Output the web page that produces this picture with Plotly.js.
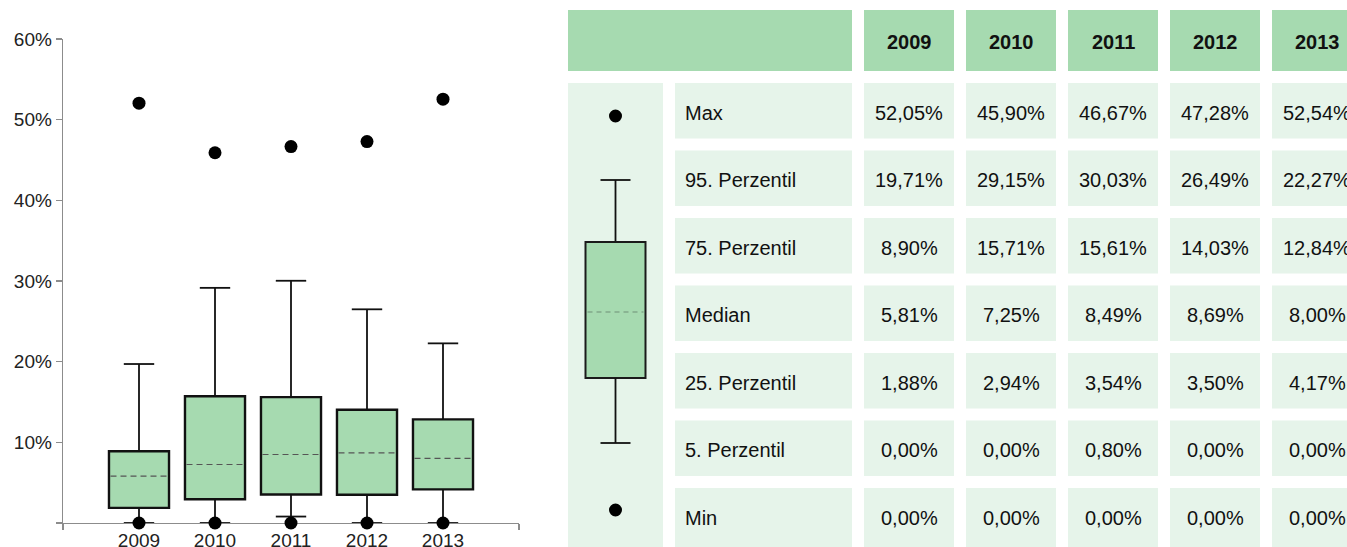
<!DOCTYPE html>
<html>
<head>
<meta charset="utf-8">
<script src="https://cdn.plot.ly/plotly-3.0.1.min.js"></script>
<style>html,body{margin:0;padding:0;background:#fff;}#chart{width:1347px;height:547px;}</style>
</head>
<body>
<div id="chart"></div>
<script>
// ---------------- DATA ----------------
const years = ['2009', '2010', '2011', '2012', '2013'];
const maxV = [52.05, 45.90, 46.67, 47.28, 52.54];
const p95 = [19.71, 29.15, 30.03, 26.49, 22.27];
const p75 = [8.90, 15.71, 15.61, 14.03, 12.84];
const medianV = [5.81, 7.25, 8.49, 8.69, 8.00];
const p25 = [1.88, 2.94, 3.54, 3.50, 4.17];
const p5 = [0.00, 0.00, 0.80, 0.00, 0.00];
const minV = [0.00, 0.00, 0.00, 0.00, 0.00];
const rowLabels = ['Max', '95. Perzentil', '75. Perzentil', 'Median', '25. Perzentil', '5. Perzentil', 'Min'];
const yTickVals = [0, 10, 20, 30, 40, 50, 60];

// ---------------- STYLE / LAYOUT CONSTANTS ----------------
const W = 1347, H = 547;
const FONT = 'Liberation Sans, Arial, Helvetica, sans-serif';
const GREEN = '#a6dab0';
const LIGHT = '#e6f4ea';
const INK = '#111111';
const AXIS = '#8c8c8c';
const px = x => x / W;
const py = y => 1 - y / H;

const idx = years.map((_, i) => i);
const boxW = 0.79, capHalf = 0.2;

// whisker segments
function segs(fn) {
  const xs = [], ys = [];
  idx.forEach(i => { const s = fn(i); xs.push(...s[0], null); ys.push(...s[1], null); });
  return [xs, ys];
}
const upStem = segs(i => [[i, i], [p75[i], p95[i]]]);
const upCap = segs(i => [[i - capHalf, i + capHalf], [p95[i], p95[i]]]);
const loStem = segs(i => [[i, i], [p25[i], p5[i]]]);
const loCap = segs(i => [[i - capHalf, i + capHalf], [p5[i], p5[i]]]);
const medSeg = segs(i => [[i - boxW / 2 + 0.02, i + boxW / 2 - 0.02], [medianV[i], medianV[i]]]);

const traces = [
  {
    type: 'bar', x: idx, base: p25, y: p75.map((v, i) => v - p25[i]), width: boxW,
    marker: {color: GREEN, line: {color: INK, width: 2.4}}, hoverinfo: 'skip', showlegend: false
  },
  {
    type: 'scatter', mode: 'lines', x: upStem[0].concat(upCap[0], loStem[0], loCap[0]),
    y: upStem[1].concat(upCap[1], loStem[1], loCap[1]),
    line: {color: INK, width: 1.8}, cliponaxis: false, connectgaps: false, hoverinfo: 'skip', showlegend: false
  },
  {
    type: 'scatter', mode: 'lines', x: medSeg[0], y: medSeg[1],
    line: {color: '#555555', width: 1.2, dash: '6px,4px'}, connectgaps: false, hoverinfo: 'skip', showlegend: false
  },
  {
    type: 'scatter', mode: 'markers', x: idx.concat(idx), y: maxV.concat(minV),
    marker: {color: '#000', size: 13}, cliponaxis: false, hoverinfo: 'skip', showlegend: false
  }
];

// ---------------- TABLE (shapes + annotations) ----------------
const shapes = [];
const annotations = [];
const colW = [95, 177, 90, 90, 90, 90, 90];
const gap = 12;
const tableLeft = 568;
const colLeft = [];
colW.reduce((acc, w, k) => { colLeft[k] = acc; return acc + w + gap; }, tableLeft);
const headTop = 10, headH = 61;
const bodyTop = 83, rowH = 55.5, rowPitch = 67.5;

function rect(x0, y0, x1, y1, color) {
  shapes.push({type: 'rect', xref: 'paper', yref: 'paper', x0: px(x0), x1: px(x1), y0: py(y1), y1: py(y0),
    fillcolor: color, line: {width: 0}, layer: 'below'});
}
// header: merged first two columns
rect(colLeft[0], headTop, colLeft[1] + colW[1], headTop + headH, GREEN);
years.forEach((yr, j) => {
  const c = j + 2;
  rect(colLeft[c], headTop, colLeft[c] + colW[c], headTop + headH, GREEN);
  annotations.push({xref: 'paper', yref: 'paper', x: px(colLeft[c] + colW[c] / 2), y: py(headTop + headH / 2 + 2),
    text: '<b>' + yr + '</b>', showarrow: false, xanchor: 'center', yanchor: 'middle',
    font: {family: FONT, size: 20, color: INK}});
});
// legend column (merged)
rect(colLeft[0], bodyTop, colLeft[0] + colW[0], H + 5, LIGHT);

const tableRows = [maxV, p95, p75, medianV, p25, p5, minV];
const fmt = v => v.toFixed(2).replace('.', ',') + '%';
tableRows.forEach((vals, r) => {
  const top = bodyTop + r * rowPitch;
  const bot = (r === tableRows.length - 1) ? H + 5 : top + rowH;
  const cy = top + rowH / 2 + 2;
  rect(colLeft[1], top, colLeft[1] + colW[1], bot, LIGHT);
  annotations.push({xref: 'paper', yref: 'paper', x: px(colLeft[1] + 8), y: py(cy),
    text: rowLabels[r], showarrow: false, xanchor: 'left', yanchor: 'middle',
    font: {family: FONT, size: 20, color: INK}});
  vals.forEach((v, j) => {
    const c = j + 2;
    rect(colLeft[c], top, colLeft[c] + colW[c], bot, LIGHT);
    annotations.push({xref: 'paper', yref: 'paper', x: px(colLeft[c] + colW[c] / 2), y: py(cy),
      text: fmt(v), showarrow: false, xanchor: 'center', yanchor: 'middle',
      font: {family: FONT, size: 20, color: INK}});
  });
});

// legend icon (schematic box plot)
const icx = colLeft[0] + colW[0] / 2;
function iline(x0, y0, x1, y1, w, color, dash) {
  shapes.push({type: 'line', xref: 'paper', yref: 'paper', x0: px(x0), x1: px(x1), y0: py(y0), y1: py(y1),
    line: {color: color || INK, width: w || 1.8, dash: dash || 'solid'}});
}
function idot(cx, cy, r) {
  shapes.push({type: 'circle', xref: 'paper', yref: 'paper', x0: px(cx - r), x1: px(cx + r), y0: py(cy + r), y1: py(cy - r),
    fillcolor: '#000', line: {width: 0}});
}
idot(icx, 116, 6.5);
iline(icx - 15, 180, icx + 15, 180);
iline(icx, 180, icx, 242);
shapes.push({type: 'rect', xref: 'paper', yref: 'paper', x0: px(icx - 30), x1: px(icx + 30), y0: py(378), y1: py(242),
  fillcolor: GREEN, line: {color: '#1a1a1a', width: 2}});
iline(icx - 28, 312, icx + 28, 312, 1, '#6f8f76', '5px,4px');
iline(icx, 378, icx, 443);
iline(icx - 15, 443, icx + 15, 443);
idot(icx, 510, 6.5);

// ---------------- LAYOUT ----------------
const layout = {
  width: W, height: H,
  margin: {l: 0, r: 0, t: 0, b: 0, pad: 0},
  paper_bgcolor: '#fff', plot_bgcolor: 'rgba(0,0,0,0)',
  showlegend: false,
  barmode: 'overlay',
  font: {family: FONT, color: '#222'},
  xaxis: {
    domain: [px(63), px(519)], range: [-1, 5],
    tickvals: idx, ticktext: years,
    ticks: '', ticklen: 0,
    minor: {tickvals: [-1, 5], ticks: 'outside', ticklen: 6, tickcolor: AXIS, tickwidth: 1.3, showgrid: false},
    showline: true, linecolor: AXIS, linewidth: 1.3, showgrid: false, zeroline: false,
    tickfont: {family: FONT, size: 19, color: '#222'}, layer: 'below traces', fixedrange: true
  },
  yaxis: {
    domain: [py(523), py(39)], range: [0, 60],
    tickvals: yTickVals, ticktext: yTickVals.map(v => v === 0 ? '' : v + '%'),
    ticks: 'outside', ticklen: 6, tickcolor: AXIS, tickwidth: 1.3,
    showline: true, linecolor: AXIS, linewidth: 1.3, showgrid: false, zeroline: false,
    tickfont: {family: FONT, size: 19, color: '#222'}, layer: 'below traces', fixedrange: true
  },
  shapes: shapes,
  annotations: annotations
};

Plotly.newPlot('chart', traces, layout, {displayModeBar: false, staticPlot: true});
</script>
</body>
</html>
